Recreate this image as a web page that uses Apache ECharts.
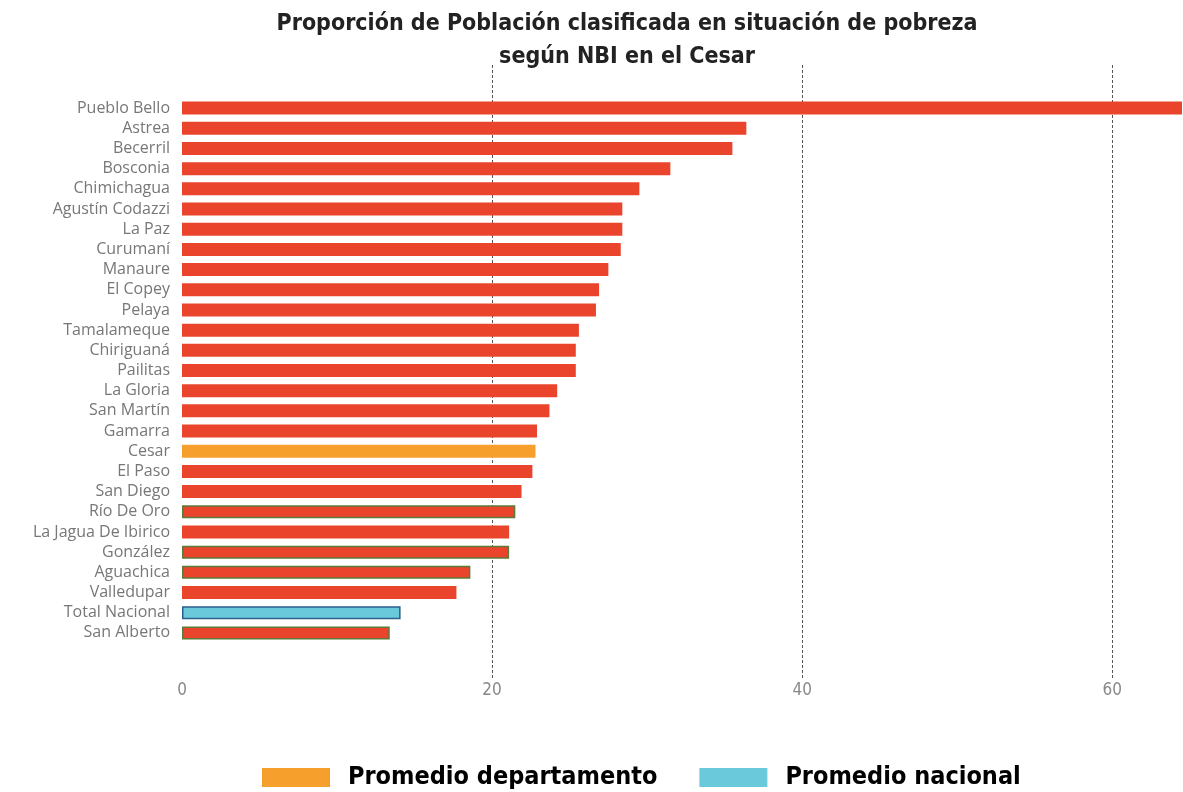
<!DOCTYPE html>
<html>
<head>
<meta charset="utf-8">
<script src="https://cdn.jsdelivr.net/npm/echarts@6/dist/echarts.min.js"></script>
<style>
  html, body { margin: 0; padding: 0; background: #fff; }
  #chart { width: 1183px; height: 792px; }
</style>
</head>
<body>
<div id="chart"></div>
<script>
// municipios y promedios, ordenados de mayor a menor
const municipios = ['Pueblo Bello', 'Astrea', 'Becerril', 'Bosconia', 'Chimichagua', 'Agustín Codazzi',
  'La Paz', 'Curumaní', 'Manaure', 'El Copey', 'Pelaya', 'Tamalameque', 'Chiriguaná', 'Pailitas',
  'La Gloria', 'San Martín', 'Gamarra', 'Cesar', 'El Paso', 'San Diego', 'Río De Oro',
  'La Jagua De Ibirico', 'González', 'Aguachica', 'Valledupar', 'Total Nacional', 'San Alberto'];
const nbi = [64.5, 36.4, 35.5, 31.5, 29.5, 28.4, 28.4, 28.3, 27.5, 26.9, 26.7, 25.6, 25.4, 25.4,
  24.2, 23.7, 22.9, 22.8, 22.6, 21.9, 21.5, 21.1, 21.1, 18.6, 17.7, 14.1, 13.4];
const conBorde = ['Río De Oro', 'González', 'Aguachica', 'San Alberto'];
const xTicks = [0, 20, 40, 60];
const leyenda = ['Promedio departamento', 'Promedio nacional'];

const ROJO = '#ea442d', NARANJA = '#f79f2c', AZUL = '#6bc9dc';
const narrow = "'Liberation Sans Narrow', 'DejaVu Sans Condensed', 'Liberation Sans', sans-serif";

const barData = municipios.map((m, i) => {
  let style = { color: ROJO };
  if (m === 'Cesar') style = { color: NARANJA };
  else if (m === 'Total Nacional') style = { color: AZUL, borderColor: '#2b5f8c', borderWidth: 1.5 };
  else if (conBorde.includes(m)) style = { color: ROJO, borderColor: '#5d7a38', borderWidth: 1.5 };
  return { value: nbi[i], itemStyle: style };
});

const chart = echarts.init(document.getElementById('chart'));
chart.setOption({
  animation: false,
  title: {
    text: 'Proporción de Población clasificada en situación de pobreza\nsegún NBI en el Cesar',
    left: 622, top: 3, textAlign: 'center',
    textStyle: { fontFamily: narrow, fontWeight: 'bold', fontSize: 23, lineHeight: 33, color: '#222' }
  },
  legend: {
    data: leyenda,
    left: 262, top: 765, padding: 0,
    icon: 'rect', itemWidth: 68, itemHeight: 19, itemGap: 42,
    textStyle: { fontFamily: narrow, fontWeight: 'bold', fontSize: 25, color: '#000', padding: [0, 0, 0, 13] }
  },
  grid: [
    { left: 182, right: 1, top: 98, height: 545 },
    { left: 182, right: 1, top: 65, height: 615 }
  ],
  xAxis: [
    { gridIndex: 0, type: 'value', min: 0, max: 64.5, show: false },
    {
      gridIndex: 1, type: 'value', min: 0, max: 64.5, interval: 20,
      axisLine: { show: false }, axisTick: { show: false },
      axisLabel: { fontFamily: narrow, fontSize: 17, color: '#888', margin: 2,
        showMaxLabel: false, formatter: v => xTicks.includes(v) ? String(v) : '' },
      splitLine: { show: true, showMinLine: false, showMaxLine: false,
        lineStyle: { color: '#555', type: [3, 2], width: 1 } }
    }
  ],
  yAxis: [
    {
      gridIndex: 0, type: 'category', data: municipios, inverse: true,
      axisLine: { show: false }, axisTick: { show: false },
      axisLabel: { interval: 0, fontFamily: "'Open Sans', sans-serif", fontSize: 16, color: '#777', margin: 12 }
    },
    { gridIndex: 1, type: 'value', show: false, min: 0, max: 1 }
  ],
  series: [
    {
      type: 'bar', xAxisIndex: 0, yAxisIndex: 0, barWidth: 13,
      data: barData, z: 3
    },
    { name: leyenda[0], type: 'line', xAxisIndex: 1, yAxisIndex: 1, data: [], itemStyle: { color: NARANJA } },
    { name: leyenda[1], type: 'line', xAxisIndex: 1, yAxisIndex: 1, data: [], itemStyle: { color: AZUL } }
  ]
});
</script>
</body>
</html>
